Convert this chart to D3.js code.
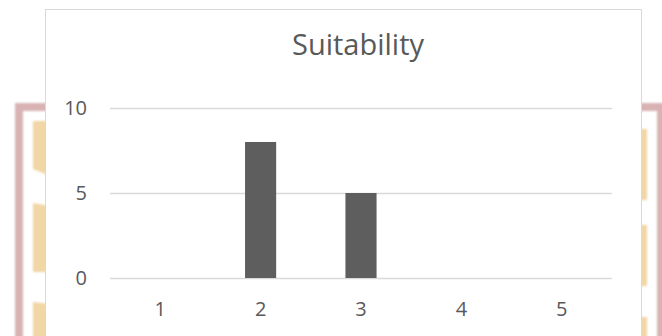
<!DOCTYPE html>
<html>
<head>
<meta charset="utf-8">
<script src="https://cdn.jsdelivr.net/npm/d3@7"></script>
<style>
  html, body { margin: 0; padding: 0; background: #ffffff; }
  svg { display: block; }
</style>
</head>
<body>
<div id="chart"></div>
<script>
// Chart data
const title = "Suitability";
const categories = ["1", "2", "3", "4", "5"];
const values = [0, 8, 5, 0, 0];
const yTicks = [0, 5, 10];
const yMax = 10;

const W = 662, H = 336;
const plot = { left: 110, right: 612, top: 108, bottom: 278 };

const svg = d3.select("#chart").append("svg")
  .attr("width", W).attr("height", H)
  .style("font-family", "'Open Sans', sans-serif");

svg.append("rect").attr("width", W).attr("height", H).attr("fill", "#ffffff");

// Soft decorative frame behind the chart panel
const defs = svg.append("defs");
defs.append("filter").attr("id", "soft")
  .append("feGaussianBlur").attr("stdDeviation", 0.9);

const deco = svg.append("g").attr("filter", "url(#soft)");
const pink = "#d9b3b3", tan = "#f1d6a6";
// left side
deco.append("rect").attr("x", 15).attr("y", 103).attr("width", 40).attr("height", 8).attr("fill", pink);
deco.append("rect").attr("x", 15).attr("y", 103).attr("width", 8).attr("height", 240).attr("fill", pink);
deco.append("path").attr("d", "M33,121 L50,121 L50,176 L33,169 Z").attr("fill", tan);
deco.append("path").attr("d", "M33,203 L50,206 L50,272 L33,272 Z").attr("fill", tan);
deco.append("path").attr("d", "M33,302 L50,304 L50,340 L33,340 Z").attr("fill", tan);
// right side
deco.append("rect").attr("x", 630).attr("y", 103).attr("width", 40).attr("height", 8).attr("fill", pink);
deco.append("rect").attr("x", 657).attr("y", 103).attr("width", 10).attr("height", 240).attr("fill", pink);
deco.append("rect").attr("x", 636).attr("y", 129).attr("width", 11).attr("height", 71).attr("fill", tan);
deco.append("rect").attr("x", 636).attr("y", 225).attr("width", 11).attr("height", 61).attr("fill", tan);
deco.append("rect").attr("x", 636).attr("y", 317).attr("width", 11).attr("height", 30).attr("fill", tan);

// Chart panel
svg.append("rect")
  .attr("x", 45.5).attr("y", 9.5)
  .attr("width", 596).attr("height", 340)
  .attr("fill", "#ffffff").attr("stroke", "#d9d9d9").attr("stroke-width", 1);

// Scales
const x = d3.scaleBand()
  .domain(categories)
  .range([plot.left, plot.right])
  .paddingInner(0.69)
  .paddingOuter(0.345);

const y = d3.scaleLinear()
  .domain([0, yMax])
  .range([plot.bottom, plot.top]);

// Y axis with gridlines
const yAxis = svg.append("g")
  .attr("transform", `translate(${plot.left},0)`)
  .call(d3.axisLeft(y).tickValues(yTicks).tickSize(-(plot.right - plot.left)).tickPadding(23));
yAxis.select(".domain").remove();
yAxis.selectAll(".tick line").attr("stroke", "#d9d9d9").attr("stroke-width", 1.3);
yAxis.selectAll(".tick text")
  .attr("fill", "#595959")
  .style("font-family", "'Open Sans', sans-serif")
  .style("font-size", "20px");

// Bars
svg.append("g").selectAll("rect")
  .data(categories.map((c, i) => ({ c, v: values[i] })))
  .join("rect")
  .attr("x", d => x(d.c))
  .attr("y", d => y(d.v))
  .attr("width", x.bandwidth())
  .attr("height", d => y(0) - y(d.v))
  .attr("fill", "#5e5e5e");

// X axis labels
const xAxis = svg.append("g")
  .attr("transform", `translate(0,${plot.bottom})`)
  .call(d3.axisBottom(x).tickSize(0).tickPadding(24));
xAxis.select(".domain").remove();
xAxis.selectAll(".tick text")
  .attr("fill", "#595959")
  .style("font-family", "'Open Sans', sans-serif")
  .style("font-size", "20px");

// Title
svg.append("text")
  .attr("x", 358).attr("y", 55)
  .attr("text-anchor", "middle")
  .attr("fill", "#595959")
  .style("font-size", "29px")
  .text(title);
</script>
</body>
</html>
